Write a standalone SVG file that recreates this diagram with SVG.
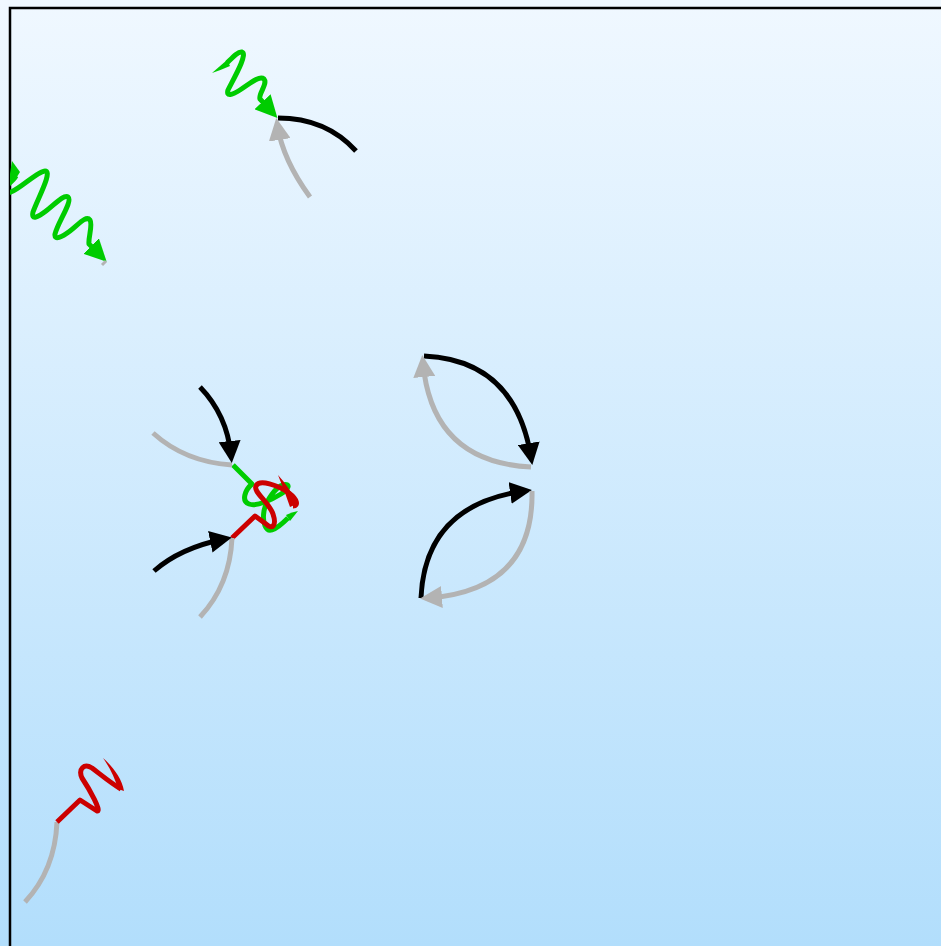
<svg xmlns="http://www.w3.org/2000/svg" width="941" height="946" viewBox="0 0 941 946">
<defs>
<linearGradient id="bg" x1="0" y1="0" x2="0" y2="1">
<stop offset="0" stop-color="#f0f8ff"/>
<stop offset="1" stop-color="#b2defc"/>
</linearGradient>
<clipPath id="frameClip"><rect x="10" y="8" width="931" height="938"/></clipPath>
<marker id="arrBlack" markerUnits="userSpaceOnUse" viewBox="0 0 22 22" markerWidth="22" markerHeight="22" refX="14" refY="11" orient="auto"><path d="M0,0 L22,11 L0,22 Z" fill="#000"/></marker>
<marker id="arrGray" markerUnits="userSpaceOnUse" viewBox="0 0 22 22" markerWidth="22" markerHeight="22" refX="14" refY="11" orient="auto"><path d="M0,0 L22,11 L0,22 Z" fill="#b3b3b3"/></marker>
<marker id="arrGreen" markerUnits="userSpaceOnUse" viewBox="0 0 22 22" markerWidth="22" markerHeight="22" refX="14" refY="11" orient="auto"><path d="M0,0 L22,11 L0,22 Z" fill="#00cc00"/></marker>
<style>
.ln{fill:none;stroke-width:5;stroke-linecap:butt;stroke-linejoin:round}
.blk{stroke:#000}
.gry{stroke:#b3b3b3}
.grn{stroke:#00cc00}
.red{stroke:#cc0000}
.fgrn{fill:#00cc00}
.fred{fill:#cc0000}
</style>
</defs>
<rect x="0" y="0" width="941" height="946" fill="url(#bg)"/>
<rect x="10" y="8" width="1000" height="1000" fill="none" stroke="#000" stroke-width="2.5"/>

<g id="connectors">
  <g id="piece-top">
    <path class="fgrn" d="M212,73 Q220,66 227,60 L230,66 Q221,70 212,73 Z"/>
    <path class="ln grn" d="M227,63 C232,58 238,51 242,52 C248,54 234,78 228,90 C226,97 232,95 240,90 C248,85 259,75 264,79 C268,84 258,94 260,99 L272,112" marker-end="url(#arrGreen)"/>
    <path class="ln blk" d="M278,118 Q326,118 356,151"/>
    <path class="ln gry" d="M310,197 Q283,160 277.5,126" marker-end="url(#arrGray)"/>
  </g>
  <g id="piece-left" clip-path="url(#frameClip)">
    <path class="fgrn" d="M12,161 L20,172 L15,180 L9,180 Z"/>
    <path class="ln grn" d="M16,176 C12,184 2,186 2,192 C3,196 6,193 11,192 C20,189 38,171 45,171 C53,171 38,198 33,212 C31,221 38,217 46,211 C54,205 64,194 68,197 C73,201 58,222 55,234 C54,241 62,237 70,231 C78,225 86,215 90,220 C93,225 88,238 89,244 L101,256" marker-end="url(#arrGreen)"/>
    <path d="M106,261 L102,265" stroke="#b3b3b3" stroke-width="3" fill="none"/>
  </g>
  <g id="piece-middle">
    <path class="ln grn" d="M233,465 L252,484 C245,490 241,501 249,504 C257,507 273,499 281,494 C289,489 291,483 283,485 C276,487 266,500 264,511 C262,523 266,532 272,530 C278,528 284,522 288,518"/>
    <path class="fgrn" d="M286,515 Q292,512 298,511 Q294,516 290,521 Z"/>
    <path class="ln red" d="M232,538 L255,516 L266,524 C272,530 277,526 273,514 C269,502 253,492 256,486 C259,479 278,485 289,493 C297,499 299,506 293,506"/>
    <path class="fred" d="M297,504 Q290,488 278,475 Q285,492 290,507 Z"/>
    <path class="ln gry" d="M153,433 Q185,462 232,465"/>
    <path class="ln blk" d="M200,387 Q227,415 231,455" marker-end="url(#arrBlack)"/>
    <path class="ln gry" d="M232,538 Q230,585 200,617"/>
    <path class="ln blk" d="M154,571 Q180,548 224,539" marker-end="url(#arrBlack)"/>
  </g>
  <g id="piece-right">
    <path class="ln blk" d="M424,356 Q515,360 531,457" marker-end="url(#arrBlack)"/>
    <path class="ln gry" d="M531,467 Q432,462 423,363" marker-end="url(#arrGray)"/>
    <path class="ln blk" d="M421,598 Q425,505 524,491" marker-end="url(#arrBlack)"/>
    <path class="ln gry" d="M532,491 Q534,590 428,598" marker-end="url(#arrGray)"/>
  </g>
  <g id="piece-bottom">
    <path class="ln gry" d="M57,822 Q55,870 25,902"/>
    <path class="ln red" d="M57,822 L80,800 L97,811 C102,812 90,790 82,778 C78,769 84,763 92,768 C100,774 112,784 121,789"/>
    <path class="fred" d="M124,791 C122,778 112,766 103,758 C110,768 115,778 118,789 Z"/>
  </g>
</g>
</svg>
